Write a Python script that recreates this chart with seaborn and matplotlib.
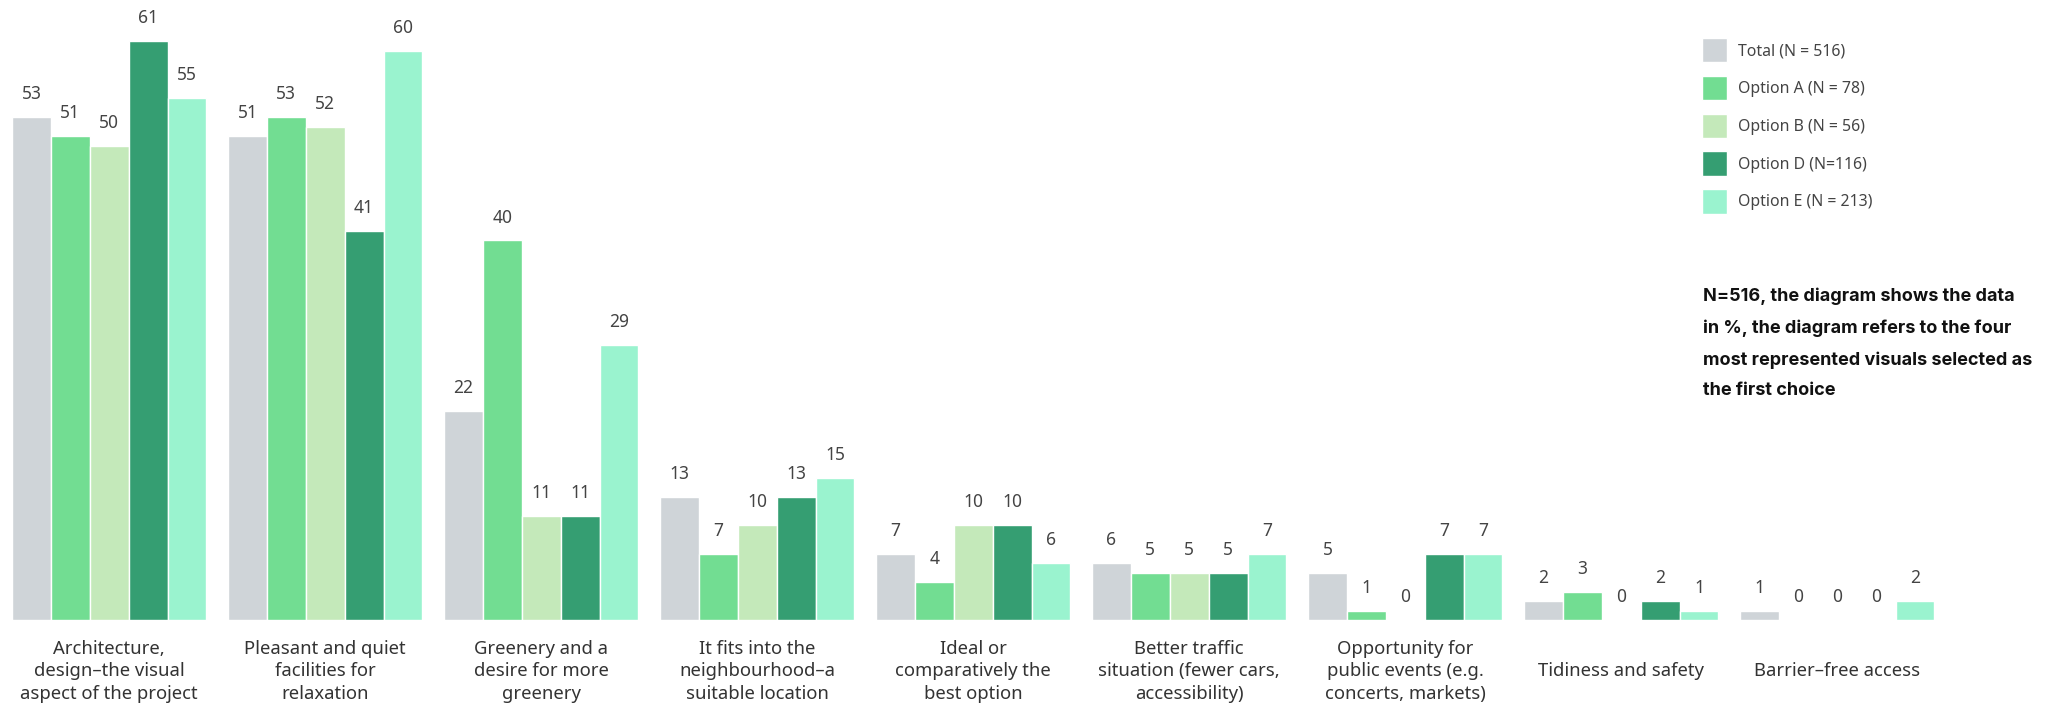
import matplotlib
matplotlib.use("Agg")
import matplotlib.pyplot as plt
import seaborn as sns
import pandas as pd

# Reasons given for the preferred visual (share of respondents, %)
categories = [
    "Architecture,\ndesign\u2013the visual\naspect of the project",
    "Pleasant and quiet\nfacilities for\nrelaxation",
    "Greenery and a\ndesire for more\ngreenery",
    "It fits into the\nneighbourhood\u2013a\nsuitable location",
    "Ideal or\ncomparatively the\nbest option",
    "Better traffic\nsituation (fewer cars,\naccessibility)",
    "Opportunity for\npublic events (e.g.\nconcerts, markets)",
    "Tidiness and safety",
    "Barrier\u2013free access",
]
series_names = [
    "Total (N = 516)",
    "Option A (N = 78)",
    "Option B (N = 56)",
    "Option D (N=116)",
    "Option E (N = 213)",
]
total    = [53, 51, 22, 13, 7, 6, 5, 2, 1]
option_a = [51, 53, 40, 7, 4, 5, 1, 3, 0]
option_b = [50, 52, 11, 10, 10, 5, 0, 0, 0]
option_d = [61, 41, 11, 13, 10, 5, 7, 2, 0]
option_e = [55, 60, 29, 15, 6, 7, 7, 1, 2]
note_text = ("N=516, the diagram shows the data\n"
             "in %, the diagram refers to the four\n"
             "most represented visuals selected as\n"
             "the first choice")

colors = ["#CFD4D8", "#72DD92", "#C4E9BA", "#359E72", "#9AF3CF"]

rows = []
for name, vals in zip(series_names, [total, option_a, option_b, option_d, option_e]):
    for cat, v in zip(categories, vals):
        rows.append({"category": cat, "group": name, "value": v})
df = pd.DataFrame(rows)

sns.set_style("white")
plt.rcParams["font.family"] = ["Noto Sans", "DejaVu Sans"]

W, H = 2065, 703
fig = plt.figure(figsize=(W / 100, H / 100), dpi=100)
ax = fig.add_axes([12 / W, 83 / H, 8.9 * 216 / W, 65 * 9.49 / H])

sns.barplot(data=df, x="category", y="value", hue="group",
            order=categories, hue_order=series_names,
            palette=colors, saturation=1, width=0.9,
            legend=True, ax=ax, errorbar=None)

ax.set_xlim(-0.45, 8.45)
ax.set_ylim(0, 65)
ax.set_yticks(range(0, 61, 10))
ax.set_yticklabels([])
ax.set_xlabel("")
ax.set_ylabel("")
for s in ax.spines.values():
    s.set_visible(False)

ax.tick_params(axis="both", length=2, width=0.8, color="#777777", direction="out")
ax.tick_params(axis="x", pad=35, labelsize=13.3, labelcolor="#333333")
for lbl in ax.get_xticklabels():
    lbl.set_verticalalignment("center")
    lbl.set_linespacing(1.3)

for cont in ax.containers:
    ax.bar_label(cont, fmt="%d", padding=10, fontsize=12.5, color="#444444")

handles, labels = ax.get_legend_handles_labels()
ax.legend_.remove()
fig.legend(handles, labels, loc="upper left",
           bbox_to_anchor=(1702 / W, 1 - 38 / H), bbox_transform=fig.transFigure,
           frameon=False, fontsize=11.4, labelcolor="#444444",
           handlelength=1.55, handleheight=2.0, handletextpad=0.7,
           labelspacing=0.84, borderpad=0, borderaxespad=0)

fig.text(1703 / W, 1 - 288 / H, note_text, ha="left", va="top",
         fontsize=13, fontweight="bold", color="#111111",
         family=["Inter", "DejaVu Sans"], linespacing=2.04)

fig.savefig("out.png", dpi=100)
